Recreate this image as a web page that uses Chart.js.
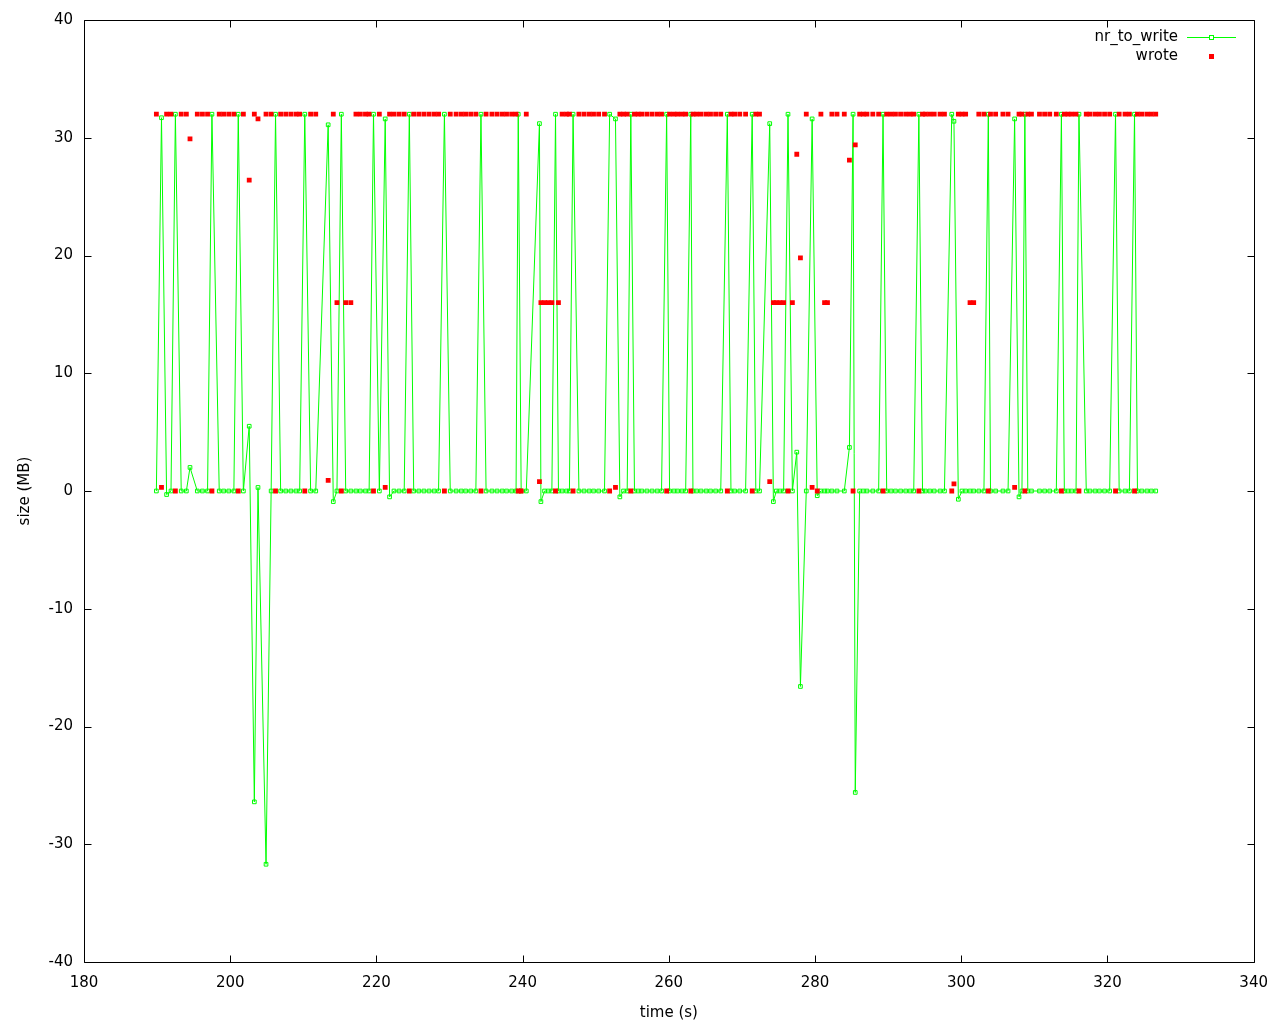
<!DOCTYPE html>
<html>
<head>
<meta charset="utf-8">
<title>nr_to_write vs wrote</title>
<script src="https://cdn.jsdelivr.net/npm/chart.js@4.4.1/dist/chart.umd.min.js"></script>
<style>
  html, body { margin: 0; padding: 0; background: #fff; }
  #chart { display: block; }
</style>
</head>
<body>
<canvas id="chart" width="1280" height="1024"></canvas>
<script>
// sample times (s)
const times = [
  189.9, 190.6, 191.3, 191.9, 192.5, 193.3, 194.0, 194.5, 195.5, 196.2, 196.9, 197.5, 198.5, 199.1, 199.8, 200.5, 201.1, 201.8, 202.6, 203.3, 203.8, 204.9, 205.6, 206.2,
  206.9, 207.6, 208.3, 209.0, 209.5, 210.2, 211.0, 211.7, 213.4, 214.1, 214.6, 215.2, 215.8, 216.5, 217.2, 217.8, 218.5, 219.0, 219.6, 220.4, 221.2, 221.8, 222.4, 223.1, 223.8,
  224.5, 225.1, 225.8, 226.5, 227.2, 227.9, 228.5, 229.3, 230.1, 230.9, 231.6, 232.2, 232.9, 233.6, 234.3, 235.0, 235.8, 236.5, 237.2, 237.8, 238.5, 239.1, 239.4, 239.8, 240.5,
  242.3, 242.5, 243.0, 243.5, 244.0, 244.5, 244.9, 245.4, 246.0, 246.4, 246.9, 247.7, 248.4, 249.1, 249.7, 250.4, 251.2, 251.9, 252.7, 253.3, 253.8, 254.3, 254.8, 255.3, 255.8, 256.3, 257.0, 257.7,
  258.4, 259.0, 259.7, 260.1, 260.7, 261.2, 261.8, 262.3, 263.0, 263.3, 263.8, 264.4, 265.1, 265.7, 266.4, 267.1, 268.0, 268.5, 269.0, 269.7, 270.5, 271.4, 271.9, 272.4, 273.8, 274.3, 274.7, 275.2,
  275.7, 276.3, 276.9, 277.5, 278.0, 278.8, 279.6, 280.3, 280.8, 281.3, 281.7, 282.3, 283.0, 284.0, 284.7, 285.2, 285.5, 286.1, 286.6, 287.1, 287.9, 288.7, 289.3, 289.8, 290.4, 291.0, 291.7,
  292.4, 293.0, 293.5, 294.2, 294.7, 295.1, 295.7, 296.3, 297.1, 297.7, 298.7, 299.0, 299.6, 300.1, 300.6, 301.2, 301.7, 302.4, 303.1, 303.7, 304.0, 304.7, 305.7, 306.4, 307.3, 307.9, 308.3, 308.7,
  309.1, 309.6, 310.7, 311.4, 312.1, 313.0, 313.7, 314.1, 314.6, 315.1, 315.7, 316.1, 317.1, 317.6, 318.3, 318.9, 319.6, 320.3, 321.1, 321.6, 322.4, 323.0, 323.7, 324.1, 324.7, 325.4, 326.0, 326.6
];

// nr_to_write (MB)
const nrToWrite = [
  0, 31.7, -0.3, 0, 32, 0, 0, 2.0, 0, 0, 0, 32, 0, 0, 0, 0, 32, 0, 5.5, -26.4, 0.3, -31.7, 0, 32,
  0, 0, 0, 0, 0, 32, 0, 0, 31.1, -0.9, 0, 32, 0, 0, 0, 0, 0, 0, 32, 0, 31.6, -0.5, 0, 0, 0,
  32, 0, 0, 0, 0, 0, 0, 32, 0, 0, 0, 0, 0, 0, 32, 0, 0, 0, 0, 0, 0, 0, 32, 0, 0,
  31.2, -0.9, 0, 0, 0, 32, 0, 0, 0, 0, 32, 0, 0, 0, 0, 0, 0, 32, 31.6, -0.5, 0, 0, 32, 0, 0, 0, 0, 0,
  0, 0, 32, 0, 0, 0, 0, 0, 32, 0, 0, 0, 0, 0, 0, 0, 32, 0, 0, 0, 0, 32, 0, 0, 31.2, -0.9, 0, 0,
  0, 32, 0, 3.3, -16.6, 0, 31.6, -0.4, 0, 0, 0, 0, 0, 0, 3.7, 32, -25.6, 0, 0, 0, 0, 0, 32, 0, 0, 0, 0,
  0, 0, 0, 32, 0, 0, 0, 0, 0, 0, 32, 31.4, -0.7, 0, 0, 0, 0, 0, 0, 32, 0, 0, 0, 0, 31.6, -0.5, 0, 32,
  0, 0, 0, 0, 0, 0, 32, 0, 0, 0, 0, 32, 0, 0, 0, 0, 0, 0, 32, 0, 0, 0, 32, 0, 0, 0, 0, 0
];

// wrote (MB)
const wrote = [
  32, 0.3, 32, 32, 0, 32, 32, 29.9, 32, 32, 32, 0, 32, 32, 32, 32, 0, 32, 26.4, 32, 31.6, 32, 32, 0,
  32, 32, 32, 32, 32, 0, 32, 32, 0.9, 32, 16, 0, 16, 16, 32, 32, 32, 32, 0, 32, 0.3, 32, 32, 32, 32,
  0, 32, 32, 32, 32, 32, 32, 0, 32, 32, 32, 32, 32, 32, 0, 32, 32, 32, 32, 32, 32, 32, 0, 0, 32,
  0.8, 16, 16, 16, 16, 0, 16, 32, 32, 32, 0, 32, 32, 32, 32, 32, 32, 0, 0.3, 32, 32, 32, 0, 32, 32, 32, 32, 32,
  32, 32, 0, 32, 32, 32, 32, 32, 0, 32, 32, 32, 32, 32, 32, 32, 0, 32, 32, 32, 32, 0, 32, 32, 0.8, 16, 16, 16,
  16, 0, 16, 28.6, 19.8, 32, 0.3, 0, 32, 16, 16, 32, 32, 32, 28.1, 0, 29.4, 32, 32, 32, 32, 32, 0, 32, 32, 32, 32,
  32, 32, 32, 0, 32, 32, 32, 32, 32, 32, 0, 0.6, 32, 32, 32, 16, 16, 32, 32, 0, 32, 32, 32, 32, 0.3, 32, 32, 0,
  32, 32, 32, 32, 32, 32, 0, 32, 32, 32, 32, 0, 32, 32, 32, 32, 32, 32, 0, 32, 32, 32, 0, 32, 32, 32, 32, 32
];

const xRange = [180, 340];
const yRange = [-40, 40];
const xStep = 20;
const yStep = 10;

const GREEN = "#00ff00";
const RED = "#ff0000";
const TICK_LEN = 7;

Chart.defaults.font.family = "'DejaVu Sans', sans-serif";
Chart.defaults.font.size = 15;
Chart.defaults.color = "#000";

// gnuplot style border with inward (mirrored) tick marks, plus the key
const frame = {
  id: "frame",
  beforeDatasetsDraw(chart) {
    const { ctx, chartArea: a, scales } = chart;
    const l = Math.round(a.left) + 0.5;
    const r = Math.round(a.right) + 0.5;
    const t = Math.round(a.top) + 0.5;
    const b = Math.round(a.bottom) + 0.5;
    ctx.save();
    ctx.strokeStyle = "#000";
    ctx.lineWidth = 1;
    ctx.beginPath();
    ctx.rect(l, t, r - l, b - t);
    scales.x.ticks.forEach((tk) => {
      const x = Math.round(scales.x.getPixelForValue(tk.value)) + 0.5;
      ctx.moveTo(x, b);
      ctx.lineTo(x, b - TICK_LEN);
      ctx.moveTo(x, t);
      ctx.lineTo(x, t + TICK_LEN);
    });
    scales.y.ticks.forEach((tk) => {
      const y = Math.round(scales.y.getPixelForValue(tk.value)) + 0.5;
      ctx.moveTo(l, y);
      ctx.lineTo(l + TICK_LEN, y);
      ctx.moveTo(r, y);
      ctx.lineTo(r - TICK_LEN, y);
    });
    ctx.stroke();
    ctx.restore();
  },
  afterDraw(chart) {
    const { ctx } = chart;
    const ds = chart.data.datasets;
    ctx.save();
    ctx.font = "15px 'DejaVu Sans', sans-serif";
    ctx.textAlign = "right";
    ctx.textBaseline = "middle";
    ds.forEach((d, i) => {
      const y = 37.5 + i * 19;
      const mx = 1211.5;
      ctx.fillStyle = "#000";
      ctx.fillText(d.label, 1178, y);
      if (i === 0) {
        ctx.strokeStyle = GREEN;
        ctx.lineWidth = 1;
        ctx.beginPath();
        ctx.moveTo(1187, y);
        ctx.lineTo(1236, y);
        ctx.stroke();
        ctx.fillStyle = "#fff";
        ctx.fillRect(mx - 2, y - 2, 4, 4);
        ctx.strokeRect(mx - 2, y - 2, 4, 4);
      } else {
        ctx.fillStyle = RED;
        ctx.fillRect(mx - 2.5, y - 2.5, 5, 5);
      }
    });
    ctx.restore();
  }
};

const greenPoints = times.map((t, i) => ({ x: t, y: nrToWrite[i] }));
const redPoints = times.map((t, i) => ({ x: t, y: wrote[i] }));

new Chart(document.querySelector("#chart"), {
  type: "scatter",
  data: {
    datasets: [
      {
        label: "nr_to_write",
        data: greenPoints,
        showLine: true,
        borderColor: GREEN,
        borderWidth: 1,
        pointStyle: "rect",
        pointRadius: 2.6,
        pointBorderWidth: 1,
        pointBorderColor: GREEN,
        pointBackgroundColor: "rgba(255,255,255,0)",
        order: 2,
      },
      {
        label: "wrote",
        data: redPoints,
        showLine: false,
        pointStyle: "rect",
        pointRadius: 3.4,
        pointBorderWidth: 0,
        pointBackgroundColor: RED,
        pointBorderColor: RED,
        order: 1,
      },
    ],
  },
  options: {
    responsive: false,
    animation: false,
    devicePixelRatio: 1,
    layout: { padding: { top: 20, right: 26, bottom: 0, left: 0 } },
    plugins: {
      legend: { display: false },
      tooltip: { enabled: false },
    },
    scales: {
      x: {
        type: "linear",
        min: xRange[0],
        max: xRange[1],
        ticks: { stepSize: xStep, padding: 12, maxRotation: 0 },
        grid: { display: false, drawTicks: false },
        border: { display: false },
        title: { display: true, text: "time (s)", padding: { top: 0, bottom: 2 } },
        afterFit(scale) {
          scale.height = 62;
        },
      },
      y: {
        type: "linear",
        min: yRange[0],
        max: yRange[1],
        ticks: { stepSize: yStep, padding: 11 },
        grid: { display: false, drawTicks: false },
        border: { display: false },
        title: { display: true, text: "size (MB)", padding: { top: 16, bottom: 0 } },
        afterFit(scale) {
          scale.width = 84;
        },
      },
    },
  },
  plugins: [frame],
});
</script>
</body>
</html>
